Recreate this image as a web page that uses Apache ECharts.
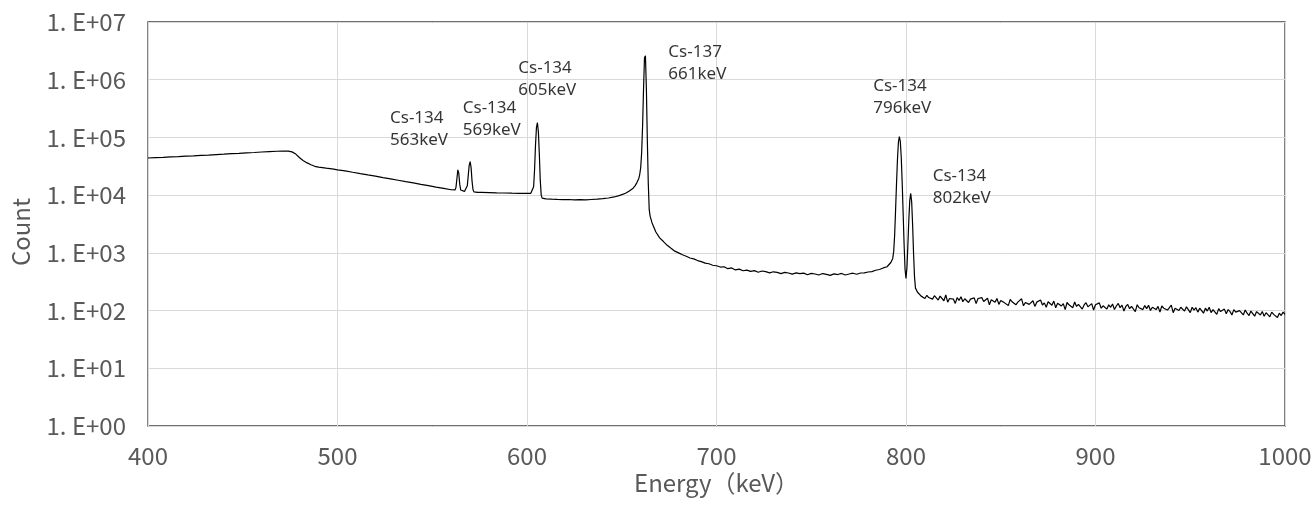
<!DOCTYPE html>
<html>
<head>
<meta charset="utf-8">
<script src="https://cdn.jsdelivr.net/npm/echarts@6/dist/echarts.min.js"></script>
<style>
html,body{margin:0;padding:0;background:#fff;}
#chart{width:1315px;height:507px;}
</style>
</head>
<body>
<div id="chart"></div>
<script>
// ---- Data ----
// Low-energy continuum / Compton edge region
const contE = [400,404,408,412,416,420,424,428,432,436,440,444,448,452,456,460,464,468,471,474,476,478,480,482,484,486,488,490,494,498];
const contC = [44000,44600,45100,45900,46400,47300,47900,48800,49500,50400,51200,52200,52900,53900,54800,55900,56800,57600,57900,57700,56200,51500,44500,39500,36200,33600,31600,30600,29400,28300];
// Falling continuum 500-560 keV
const slopeE = [500,504,508,512,516,520,524,528,532,536,540,544,548,552,556,560];
const slopeC = [27500,26300,24900,23600,22400,21300,20100,19100,18100,17100,16300,15400,14600,13800,13100,12400];
// Cs-134 563 / 569 keV doublet
const doubletE = [561,562,562.5,563,563.5,564,564.5,565,565.5,566,567,568,568.5,569,569.5,570,570.5,571,571.5,572,573,574];
const doubletC = [12200,12300,13500,19000,27500,24000,15500,12300,11700,11600,11600,12100,14500,22000,33000,38000,30000,17500,12500,11400,11300,11200];
// Cs-134 605 keV
const p605E = [576,580,584,588,592,596,600,602,603,603.5,604,604.5,605,605.5,606,606.5,607,607.5,608,609,610];
const p605C = [11150,11050,10950,10900,10800,10750,10700,10750,11200,14000,28000,75000,150000,180000,125000,52000,18000,10000,8900,8700,8600];
// Valley and Cs-137 661 keV
const p661E = [613,616,619,622,625,628,631,634,637,640,643,646,649,652,654,656,657,658,659,659.5,660,660.5,661,661.5,662,662.5,663,663.5,664,664.5,665,666,667,668];
const p661C = [8500,8420,8350,8410,8290,8350,8280,8400,8510,8690,8920,9300,9900,10800,11800,13200,14500,16500,19500,23000,30000,55000,160000,700000,2400000,2600000,700000,90000,16000,5600,4300,3300,2750,2300];
// Compton continuum 670-790 keV
const midE = [670,672,674,676,678,680,682,684,686,688,690,692,694,696,698,700,702,704,706,708,710,712,714,716,718,720,722,724,726,728,730,732,734,736,738,740,742,744,746,748,750,752,754,756,758,760,762,764,766,768,770,772,774,776,778,780,782,784,786,788,790];
const midC = [1820,1570,1350,1200,1070,1000,925,875,815,785,735,705,665,648,610,598,568,575,532,548,506,522,490,503,478,492,462,485,472,450,470,460,436,458,448,428,450,436,446,418,440,430,414,438,424,408,432,421,440,414,430,444,426,448,450,466,474,500,515,548,575];
// Cs-134 796 / 802 keV doublet
const p796E = [791,792,793,793.5,794,794.5,795,795.5,796,796.5,797,797.5,798,798.5,799,799.5,800,800.5,801,801.5,802,802.5,803,803.5,804,804.5,805,806];
const p796C = [610,680,800,1050,2000,5500,16000,42000,82000,103000,85000,45000,16000,4800,1400,520,360,560,1400,3800,8200,10700,7600,3000,950,380,245,210];
// High-energy tail 807-1000 keV
const tailE = [807,808,809,810,811,812,813,814,815,816,817,818,819,820,821,822,823,824,825,826,827,828,829,830,831,832,833,834,835,836,837,838,839,840,841,842,843,844,845,846,847,848,849,850,851,852,853,854,855,856,857,858,859,860,861,862,863,864,865,866,867,868,869,870,871,872,873,874,875,876,877,878,879,880,881,882,883,884,885,886,887,888,889,890,891,892,893,894,895,896,897,898,899,900,901,902,903,904,905,906,907,908,909,910,911,912,913,914,915,916,917,918,919,920,921,922,923,924,925,926,927,928,929,930,931,932,933,934,935,936,937,938,939,940,941,942,943,944,945,946,947,948,949,950,951,952,953,954,955,956,957,958,959,960,961,962,963,964,965,966,967,968,969,970,971,972,973,974,975,976,977,978,979,980,981,982,983,984,985,986,987,988,989,990,991,992,993,994,995,996,997,998,999,1000];
const tailC = [205,178,190,162,184,168,176,158,181,170,
152,178,165,148,186,140,162,175,158,133,
168,150,174,142,160,171,138,158,149,166,
132,162,150,168,144,135,164,126,154,148,
140,162,128,150,158,136,145,122,156,142,
150,126,140,147,160,121,138,149,128,135,
148,118,140,131,152,125,136,114,142,138,
124,146,112,134,140,120,132,104,138,126,
130,112,141,118,128,134,106,125,137,116,
122,132,102,126,119,136,110,121,128,106,
126,114,130,104,120,133,112,124,98,118,
128,108,118,124,96,126,112,118,104,122,
108,124,100,114,122,104,118,94,120,110,
116,102,112,124,92,110,118,100,114,106,
98,116,104,92,114,102,112,94,110,100,
90,110,98,114,92,104,100,86,108,96,
92,106,88,104,96,84,104,94,88,100,
96,84,102,90,82,98,92,80,96,90,
84,96,80,92,88,78,94,86,90,76,
90,82,94,86];

// Peak annotations (anchor = top-left of label, in data coordinates)
const labelText = ['Cs-134\n563keV','Cs-134\n569keV','Cs-134\n605keV','Cs-137\n661keV','Cs-134\n796keV','Cs-134\n802keV'];
const labelE = [527.7, 566.1, 595.4, 674.6, 782.7, 814.1];
const labelC = [336000, 507000, 2500000, 4620000, 1220000, 33600];

// Axis ticks
const xTicks = [400,500,600,700,800,900,1000];
const yTickLabels = ['1. E+00','1. E+01','1. E+02','1. E+03','1. E+04','1. E+05','1. E+06','1. E+07'];

// ---- Build ----
const energy = [].concat(contE, slopeE, doubletE, p605E, p661E, midE, p796E, tailE);
const count = [].concat(contC, slopeC, doubletC, p605C, p661C, midC, p796C, tailC);
const spectrum = energy.map((e, i) => [e, count[i]]);
const labels = labelE.map((e, i) => ({ value: [e, labelC[i]], label: { formatter: labelText[i] } }));

const tickFont = '"Noto Sans CJK JP", "Noto Sans", sans-serif';
const chart = echarts.init(document.getElementById('chart'), null, { renderer: 'canvas' });
chart.setOption({
  animation: false,
  backgroundColor: '#ffffff',
  grid: {
    left: 148, right: 30, top: 22, bottom: 81, show: true, borderColor: '#404040', borderWidth: 1.3,
    backgroundColor: 'transparent', containLabel: false, outerBoundsMode: 'none'
  },
  xAxis: {
    type: 'value', min: xTicks[0], max: xTicks[xTicks.length - 1], interval: 100,
    axisLine: { show: false }, axisTick: { show: false },
    splitLine: { show: true, lineStyle: { color: '#d9d9d9', width: 1 } },
    axisLabel: { color: '#595959', fontSize: 24, fontFamily: tickFont, margin: 18, formatter: v => String(v) },
    name: 'Energy（keV）', nameLocation: 'middle', nameGap: 45, nameMoveOverlap: false,
    nameTextStyle: { color: '#595959', fontSize: 24, fontFamily: tickFont }
  },
  yAxis: {
    type: 'log', logBase: 10, min: 1, max: 1e7, interval: 1,
    axisLine: { show: false }, axisTick: { show: false },
    splitLine: { show: true, lineStyle: { color: '#d9d9d9', width: 1 } },
    axisLabel: {
      color: '#595959', fontSize: 24, fontFamily: tickFont, margin: 22,
      formatter: v => yTickLabels[Math.round(Math.log10(v))]
    },
    name: 'Count', nameLocation: 'middle', nameGap: 115, nameMoveOverlap: false,
    nameTextStyle: { color: '#595959', fontSize: 24, fontFamily: tickFont, padding: [0, 16, 0, 0] }
  },
  series: [
    {
      type: 'line', data: spectrum, showSymbol: false, symbol: 'none', sampling: null,
      lineStyle: { color: '#000000', width: 1.2 }, silent: true, z: 3
    },
    {
      type: 'scatter', data: labels, symbolSize: 0, silent: true, z: 4,
      label: {
        show: true, position: [0, 0], align: 'left', verticalAlign: 'top',
        color: '#000000', fontSize: 17, lineHeight: 22, fontFamily: '"Noto Sans", sans-serif'
      }
    }
  ]
});
</script>
</body>
</html>
